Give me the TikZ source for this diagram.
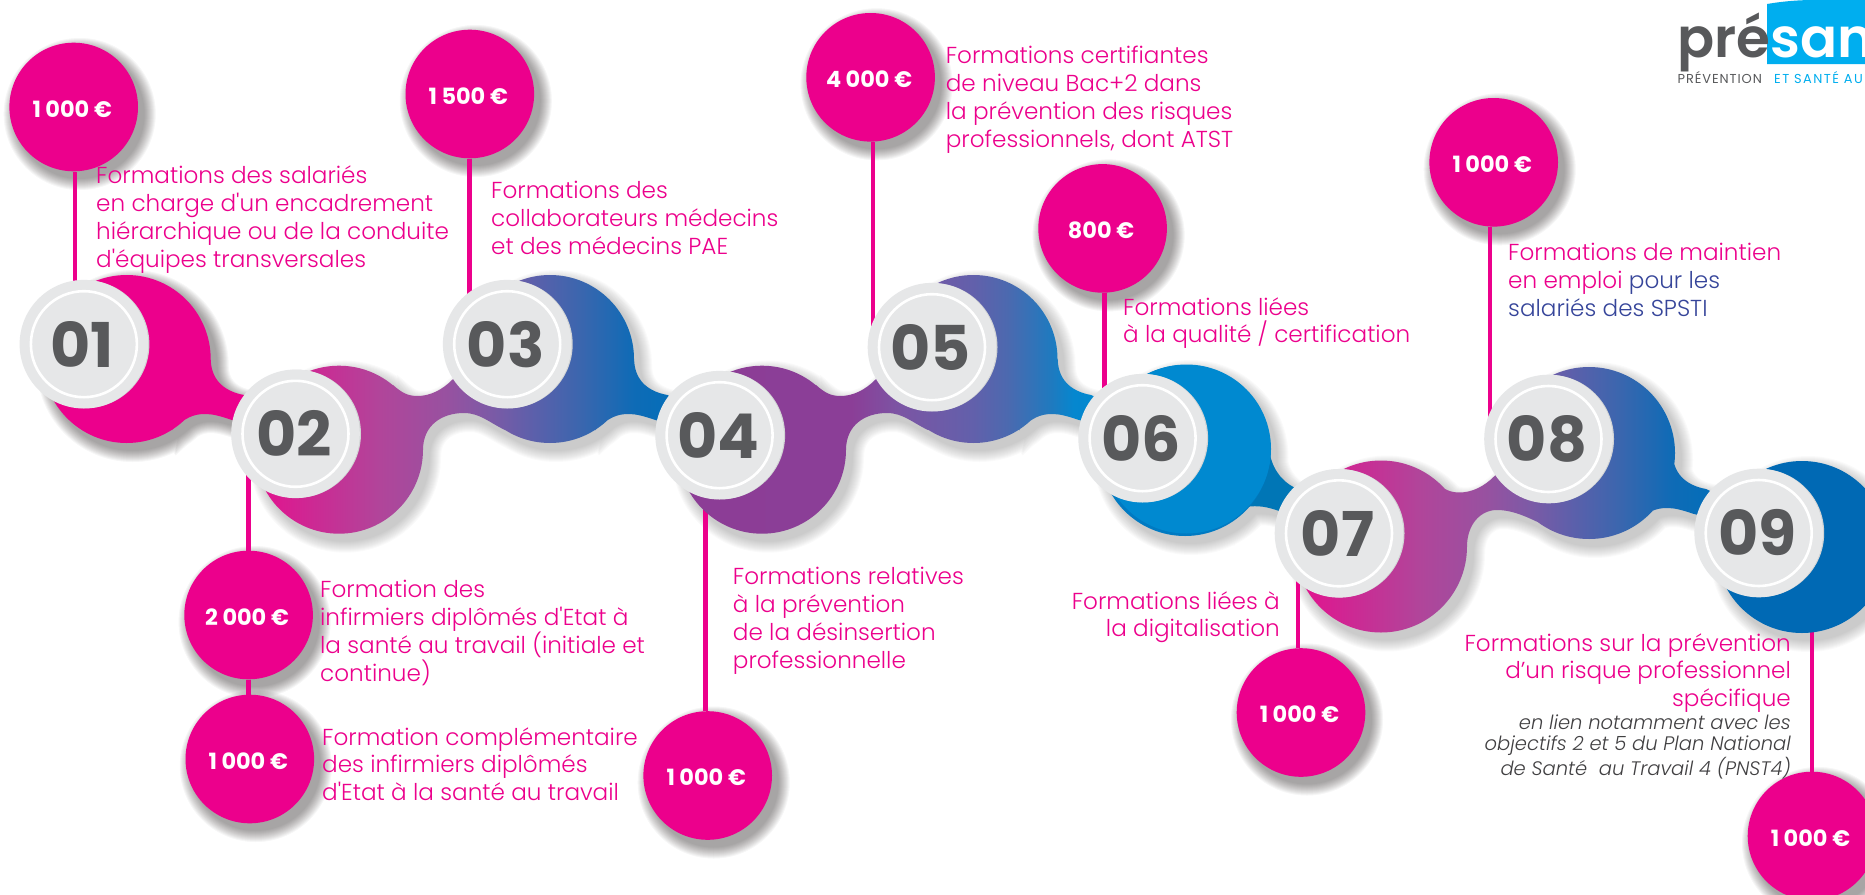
\documentclass[tikz,border=0pt]{standalone}
\usepackage{fontspec}
\setmainfont{Poppins}[BoldFont={Poppins Bold}]
\newfontfamily\lightf{Poppins Light}[ItalicFont={Poppins Light Italic}]
\newfontfamily\semif{Poppins SemiBold}
\newfontfamily\tagf{Poppins}[LetterSpace=7]
\newfontfamily\tagg{Poppins}[LetterSpace=11]
\definecolor{pinkc}{HTML}{EC008C}
\definecolor{inkc}{HTML}{58595B}
\definecolor{discc}{HTML}{E6E7E8}
\definecolor{navyc}{HTML}{36459A}
\definecolor{itc}{HTML}{414042}
\definecolor{skyc}{HTML}{00AEEF}
\definecolor{shc}{HTML}{231F20}
\definecolor{neckd}{HTML}{0076B6}
\definecolor{sixa}{HTML}{007AC2}
\definecolor{sixb}{HTML}{0089D0}
\definecolor{ninec}{HTML}{0069B4}
\definecolor{discs}{HTML}{D1D3D4}
\pgfdeclarelayer{back}
\pgfsetlayers{back,main}
\definecolor{b1}{HTML}{E4118E}\definecolor{b2}{HTML}{B1459A}\definecolor{b3}{HTML}{9851A0}\definecolor{b4}{HTML}{7C5AA6}
\definecolor{b5}{HTML}{5A60AB}\definecolor{b6}{HTML}{3B66AE}\definecolor{b7}{HTML}{0E6BB6}\definecolor{b8}{HTML}{0070BA}
\definecolor{c1}{HTML}{8C3D96}\definecolor{c2}{HTML}{8B3E97}\definecolor{c3}{HTML}{7B55A4}\definecolor{c4}{HTML}{6260AB}
\definecolor{c5}{HTML}{4C69AF}\definecolor{c6}{HTML}{1F7ABF}\definecolor{c7}{HTML}{0587CF}\definecolor{c8}{HTML}{0089D0}
\pgfdeclarehorizontalshading{secBs}{100bp}{color(0bp)=(b1);color(25bp)=(b1);color(39.4bp)=(b2);color(47bp)=(b3);color(52.2bp)=(b4);color(57.4bp)=(b5);color(62.5bp)=(b6);color(68.7bp)=(b7);color(75bp)=(b8);color(100bp)=(b8)}
\pgfdeclarehorizontalshading{secCs}{100bp}{color(0bp)=(c1);color(25bp)=(c1);color(45bp)=(c2);color(50.6bp)=(c3);color(59bp)=(c4);color(62.9bp)=(c5);color(68bp)=(c6);color(70.6bp)=(c7);color(75bp)=(c8);color(100bp)=(c8)}
% clockwise pieces, so that the union fills without holes
\def\blobp#1#2#3{({#1+#3},#2) arc[start angle=0,end angle=360,radius=#3] -- cycle }
\def\neckA#1#2{({#1+126.7},{#2+359}) -- ({#1+210.7},{#2+359}) .. controls ({#1+211},{#2+378}) and ({#1+222},{#2+391}) .. ({#1+244},{#2+395}) -- ({#1+265},{#2+405}) -- ({#1+265},{#2+428}) -- ({#1+232},{#2+420}) .. controls ({#1+220},{#2+416}) and ({#1+213},{#2+414}) .. ({#1+205},{#2+414}) .. controls ({#1+193},{#2+414}) and ({#1+185},{#2+418}) .. ({#1+172},{#2+430}) -- cycle }
\def\neckB#1#2{({#1+393},{#2+385}) .. controls ({#1+402},{#2+393}) and ({#1+408},{#2+396}) .. ({#1+417.4},{#2+396}) .. controls ({#1+430},{#2+396}) and ({#1+442},{#2+390}) .. ({#1+452},{#2+380}) -- ({#1+470},{#2+365}) -- ({#1+550},{#2+359}) -- ({#1+505},{#2+430}) .. controls ({#1+490},{#2+423}) and ({#1+480},{#2+413}) .. ({#1+464},{#2+413}) .. controls ({#1+442},{#2+413}) and ({#1+423},{#2+425}) .. ({#1+423},{#2+450}) -- ({#1+339},{#2+450}) -- cycle }
\def\neckE{(1435,481.5) .. controls (1444,489.5) and (1450,492.5) .. (1459.4,492.5) .. controls (1472,492.5) and (1484,486.5) .. (1494,476.5) -- (1512,461.5) -- (1589,453) -- (1547,526.5) .. controls (1532,519.5) and (1515,510) .. (1497,510) .. controls (1480,510) and (1467,525) .. (1467,546.5) -- (1381,546.5) -- cycle }
\def\secA{\blobp{126.7}{359}{84} \neckA{0}{0}}
\def\secB{\blobp{339}{449.7}{84} \neckB{0}{0} \blobp{550}{359}{84} \neckA{423.4}{0}}
\def\secC{\blobp{762}{449.7}{84} \neckB{423}{0} \blobp{973.5}{359}{84} \neckA{847}{0}}
\def\secDn{(1185,450) -- (1270,455) .. controls (1274,472) and (1284,484) .. (1300,490) -- (1312,514) -- (1279,511) .. controls (1268,507) and (1258,505) .. (1246,507) .. controls (1240,510) and (1236,514) .. (1230,520) -- cycle }
\def\secD{\blobp{1185}{450.5}{85.5} \secDn}
\def\secE{\blobp{1381}{546.5}{86} \neckE \blobp{1589}{453}{86} \neckA{1462}{94}}
\def\secF{\blobp{1802}{547}{86}}
\newcommand\softshadow[2]{%
 \begin{scope}[shift={(6,7)},line join=round]
 \foreach \w in {24,22,...,2}
  {\begin{scope}[transparency group,opacity=#1]
   \path[fill=shc,draw=shc,line width=\w bp] #2;
   \end{scope}}
 \end{scope}}
\newcommand\gapk{\hspace{.2em}}
\tikzset{
 x=1bp,y=-1bp,
 pin/.style={circle,fill=pinkc,minimum size=128.6bp,inner sep=0pt,text=white,font=\bfseries\fontsize{22.5}{26}\selectfont,text height=22bp,text depth=2bp,execute at begin node=\hspace*{-3bp}},
 disc/.style={circle,fill=discc,minimum size=128.6bp,inner sep=0pt,text=inkc,font=\bfseries\fontsize{62}{62}\selectfont,execute at begin node=\hspace*{-3bp}},
 stem/.style={draw=pinkc,line width=4.6bp},
 lab/.style={font=\lightf\fontsize{23.2}{28}\selectfont,text=pinkc,inner sep=0pt,align=left,anchor=north west},
 labr/.style={lab,align=right,anchor=north east},
 labi/.style={font=\lightf\itshape\fontsize{19.6}{21}\selectfont,text=itc,inner sep=0pt,align=right,anchor=north east}
}
\begin{document}
\begin{tikzpicture}
\useasboundingbox (0,0) rectangle (1865,895);
% discs
\node[disc] (d1) at (83.9,344.2) {01};
\node[disc] (d2) at (295.5,433.8) {02};
\node[disc] (d3) at (507.2,344.2) {03};
\node[disc] (d4) at (719.6,435.2) {04};
\node[disc] (d5) at (932,347.2) {05};
\node[disc] (d6) at (1142.6,438.2) {06};
\node[disc] (d7) at (1339,533.3) {07};
\node[disc] (d8) at (1548.5,439) {08};
\node[disc] (d9) at (1758.7,533) {09};
\foreach \n in {1,...,9}
 \draw[white,line width=2.6bp] (d\n.center) circle[radius=53];
% amounts
\node[pin] (p1) at (73.7,107) {1\gapk 000 €};
\node[pin] (p2) at (248.6,615) {2\gapk 000 €};
\node[pin] (p2b) at (249.8,759) {1\gapk 000 €};
\node[pin] (p3) at (469.8,94) {1\gapk 500 €};
\node[pin] (p4) at (707.7,775.5) {1\gapk 000 €};
\node[pin] (p5) at (870.6,77.3) {4\gapk 000 €};
\node[pin] (p6) at (1102.6,228.4) {800 €};
\node[pin] (p7) at (1301,712.5) {1\gapk 000 €};
\node[pin] (p8) at (1493.7,162.3) {1\gapk 000 €};
\node[pin] (p9) at (1812,836) {1\gapk 000 €};
\begin{pgfonlayer}{back}
 \fill[white] (0,0) rectangle (1865,895);
 \clip (0,0) rectangle (1865,895);
 \foreach \n in {p1,p2,p2b,p3,p4,p5,p6,p7,p8,p9}
  \foreach \w in {24,22,...,2}
   {\begin{scope}[transparency group,opacity=.039]
    \path[fill=shc,draw=shc,line width=\w bp] ([shift={(6,7)}]\n.center) circle[radius=64];
    \end{scope}}
 \softshadow{.039}{\secA}
 \softshadow{.021}{\secB}
 \softshadow{.021}{\secC}
 \softshadow{.021}{\secD}
 \softshadow{.021}{\secE}
 \softshadow{.021}{\secF}
 % stems
 \draw[stem] ([xshift=1.3bp]p1.south) -- ([xshift=1.3bp]p1.south |- d1);
 \draw[stem] (p2 |- d2) -- (p2.north);
 \draw[stem] (p2.south) -- (p2.south |- p2b.north);
 \draw[stem] ([xshift=-.5bp]p3.south) -- ([xshift=-.5bp]p3.south |- d3);
 \draw[stem] ([xshift=-2.5bp]p4.north |- d4) -- ([xshift=-2.5bp]p4.north);
 \draw[stem] ([xshift=2.4bp]p5.south) -- ([xshift=2.4bp]p5.south |- d5);
 \draw[stem] ([xshift=1.9bp]p6.south) -- ([xshift=1.9bp]p6.south |- d6);
 \draw[stem] ([xshift=-3bp]p7.north |- d7) -- ([xshift=-3bp]p7.north);
 \draw[stem] ([xshift=-3.7bp]p8.south) -- ([xshift=-3.7bp]p8.south |- d8);
 \draw[stem] (p9.north |- d9) -- (p9.north);
 % chain
 \fill[pinkc] \secA;
 \shade[shading=secBs] \secB;
 \shade[shading=secCs] \secC;
 \fill[neckd] \secDn;
 \fill[sixa] (1185,450.5) circle[radius=85.5];
 \fill[sixb] (1186.5,449) circle[radius=84.5];
 \shade[shading=secBs] \secE;
 \fill[ninec] \secF;
 \foreach \n in {1,...,9}
  \fill[discs] ([xshift=1.5bp]d\n.center) circle[radius=64];
\end{pgfonlayer}
% labels
\node[lab] (t1) at (96,166) {Formations des salariés\\en charge d'un encadrement\\hiérarchique ou de la conduite\\d'équipes transversales};
\node[lab] (t3) at (491,181) {Formations des\\collaborateurs médecins\\et des médecins PAE};
\node[lab] (t5) at (945.6,46) {Formations certifiantes\\de niveau Bac+2 dans\\la prévention des risques\\professionnels, dont ATST};
\node[lab] (t6) at (1123,297) {Formations liées\\à la qualité / certification};
\node[lab] (t8) at (1508,243) {Formations de maintien\\en emploi \textcolor{navyc}{pour les}\\\textcolor{navyc}{salariés des SPSTI}};
\node[lab] (t2) at (320,580) {Formation des\\infirmiers diplômés d'Etat à\\la santé au travail (initiale et\\continue)};
\node[lab] (t2b) at (322,727) {Formation complémentaire\\des infirmiers diplômés\\d'Etat à la santé au travail};
\node[lab] (t4) at (732.7,567) {Formations relatives\\à la prévention\\de la désinsertion\\professionnelle};
\node[labr] (t7) at (1280,591) {Formations liées à\\la digitalisation};
\node[labr] (t9) at (1791,633) {Formations sur la prévention\\d’un risque professionnel\\spécifique};
\node[labi] (t9i) at (1791,715) {en lien notamment avec les\\objectifs 2 et 5 du Plan National\\de Santé\ \ au Travail 4 (PNST4)};
% logo
\fill[skyc] (1767,64) -- (1767,4) .. controls (1785,1) and (1800,0) .. (1815,0) -- (1865,0) -- (1865,64) -- cycle;
\node[font=\semif\fontsize{55}{55}\selectfont,text=inkc,inner sep=0pt,anchor=base west] (lg1) at (1677,57) {pré};
\node[font=\semif\fontsize{55}{55}\selectfont,text=white,inner sep=0pt,anchor=base west] (lg2) at (1770,57) {san};
\node[font=\tagf\fontsize{13}{14}\selectfont,text=inkc,inner sep=0pt,anchor=base west] (lg3) at (1677.5,83) {PRÉVENTION};
\node[font=\tagg\fontsize{13}{14}\selectfont,text=skyc,inner sep=0pt,anchor=base west] (lg4) at (1774,83) {ET SANTÉ AU};
\end{tikzpicture}
\end{document}
